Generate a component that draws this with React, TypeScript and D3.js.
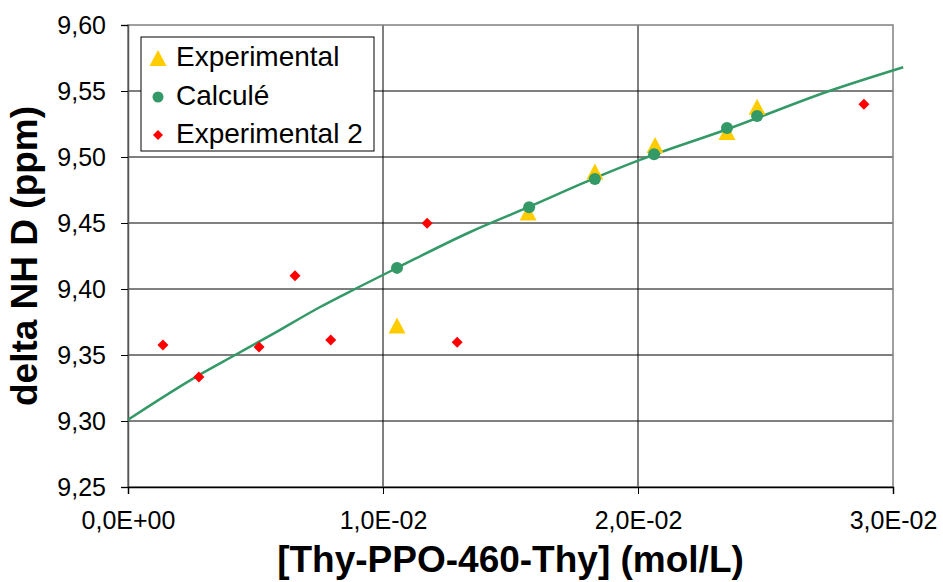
import React, { useRef, useEffect } from "react";
import * as d3 from "d3";

interface Pt {
  x: number;
  y: number;
}

// Experimental (yellow triangles)
const expX = [0.01055, 0.01569, 0.01831, 0.02067, 0.02349, 0.02467];
const expY = [9.3723, 9.458, 9.489, 9.509, 9.519, 9.538];

// Calculé (green circles)
const calcX = [0.01055, 0.01573, 0.01831, 0.02063, 0.02349, 0.02467];
const calcY = [9.416, 9.462, 9.4833, 9.502, 9.522, 9.531];

// Experimental 2 (red diamonds)
const exp2X = [0.00137, 0.00278, 0.00514, 0.00655, 0.00795, 0.01173, 0.01291, 0.02886];
const exp2Y = [9.3576, 9.3333, 9.356, 9.41, 9.3614, 9.4498, 9.3597, 9.54];

// fitted curve
const fitX = [0, 0.0028, 0.0042, 0.0056, 0.0075, 0.0089, 0.01055, 0.0134, 0.0157, 0.0183, 0.0201, 0.0235, 0.0275, 0.0304];
const fitY = [9.301, 9.335, 9.35, 9.365, 9.386, 9.4, 9.416, 9.443, 9.462, 9.484, 9.498, 9.521, 9.55, 9.568];

const xTicks = [0, 0.01, 0.02, 0.03];
const xTickLabels = ["0,0E+00", "1,0E-02", "2,0E-02", "3,0E-02"];
const yTicks = [9.25, 9.3, 9.35, 9.4, 9.45, 9.5, 9.55, 9.6];
const yTickLabels = ["9,25", "9,30", "9,35", "9,40", "9,45", "9,50", "9,55", "9,60"];

const seriesNames = ["Experimental", "Calculé", "Experimental 2"];

const zip = (xs: number[], ys: number[]): Pt[] => xs.map((x, i) => ({ x, y: ys[i] }));

const App: React.FC = () => {
  const ref = useRef<SVGSVGElement | null>(null);
  const width = 943;
  const height = 582;

  useEffect(() => {
    const font = "'Liberation Sans', Arial, sans-serif";
    const left = 128;
    const right = 893;
    const top = 25;
    const bottom = 487;

    d3.select(ref.current).selectAll("*").remove();
    const svg = d3.select(ref.current).attr("width", width).attr("height", height);

    const x = d3.scaleLinear().domain([0, 0.03]).range([left, right]);
    const y = d3.scaleLinear().domain([9.25, 9.6]).range([bottom, top]);

    svg.append("rect").attr("width", width).attr("height", height).attr("fill", "#fff");

    // gridlines
    svg
      .append("g")
      .selectAll("line")
      .data(yTicks.slice(1, -1))
      .enter()
      .append("line")
      .attr("x1", left)
      .attr("x2", right)
      .attr("y1", (d) => y(d))
      .attr("y2", (d) => y(d))
      .attr("stroke", "#000")
      .attr("stroke-width", 1);
    svg
      .append("g")
      .selectAll("line")
      .data(xTicks.slice(1, -1))
      .enter()
      .append("line")
      .attr("x1", (d) => x(d))
      .attr("x2", (d) => x(d))
      .attr("y1", top)
      .attr("y2", bottom)
      .attr("stroke", "#000")
      .attr("stroke-width", 1);

    // plot area border
    svg
      .append("rect")
      .attr("x", left)
      .attr("y", top)
      .attr("width", right - left)
      .attr("height", bottom - top)
      .attr("fill", "none")
      .attr("stroke", "#808080")
      .attr("stroke-width", 1.5);

    // axes
    const yAxis = svg
      .append("g")
      .attr("transform", `translate(${left},0)`)
      .call(
        d3
          .axisLeft(y)
          .tickValues(yTicks)
          .tickSize(7)
          .tickPadding(15)
          .tickFormat((d, i) => yTickLabels[i]) as any,
      );
    yAxis.select(".domain").attr("stroke", "#555").attr("stroke-width", 1.5);
    yAxis.selectAll(".tick line").attr("stroke", "#000");
    yAxis
      .selectAll("text")
      .attr("fill", "#000")
      .style("font-family", font)
      .style("font-size", "25px");

    const xAxis = svg
      .append("g")
      .attr("transform", `translate(0,${bottom})`)
      .call(
        d3
          .axisBottom(x)
          .tickValues(xTicks)
          .tickSize(7)
          .tickPadding(17)
          .tickFormat((d, i) => xTickLabels[i]) as any,
      );
    xAxis.select(".domain").attr("stroke", "#000").attr("stroke-width", 1.5);
    xAxis.selectAll(".tick line").attr("stroke", "#000");
    xAxis
      .selectAll("text")
      .attr("fill", "#000")
      .style("font-family", font)
      .style("font-size", "25px");

    // fitted line (not clipped, runs past the plot edge)
    const line = d3
      .line<Pt>()
      .x((d) => x(d.x))
      .y((d) => y(d.y))
      .curve(d3.curveMonotoneX);
    svg
      .append("path")
      .datum(zip(fitX, fitY))
      .attr("fill", "none")
      .attr("stroke", "#339966")
      .attr("stroke-width", 2.5)
      .attr("d", line);

    const triPath = (cx: number, cy: number) =>
      `M${cx},${cy - 8}L${cx + 8.5},${cy + 8}L${cx - 8.5},${cy + 8}Z`;
    const diaPath = (cx: number, cy: number, r: number) =>
      `M${cx},${cy - r}L${cx + r},${cy}L${cx},${cy + r}L${cx - r},${cy}Z`;

    svg
      .append("g")
      .selectAll("path")
      .data(zip(expX, expY))
      .enter()
      .append("path")
      .attr("d", (d) => triPath(x(d.x), y(d.y)))
      .attr("fill", "#FFCC00");

    svg
      .append("g")
      .selectAll("circle")
      .data(zip(calcX, calcY))
      .enter()
      .append("circle")
      .attr("cx", (d) => x(d.x))
      .attr("cy", (d) => y(d.y))
      .attr("r", 6)
      .attr("fill", "#339966");

    svg
      .append("g")
      .selectAll("path")
      .data(zip(exp2X, exp2Y))
      .enter()
      .append("path")
      .attr("d", (d) => diaPath(x(d.x), y(d.y), 5.5))
      .attr("fill", "#FF0000");

    // legend
    const lg = svg.append("g");
    lg.append("rect")
      .attr("x", 141)
      .attr("y", 37)
      .attr("width", 233)
      .attr("height", 114)
      .attr("fill", "#fff")
      .attr("stroke", "#000")
      .attr("stroke-width", 1);
    lg.append("path").attr("d", triPath(158, 58)).attr("fill", "#FFCC00");
    lg.append("circle").attr("cx", 158).attr("cy", 97).attr("r", 5.5).attr("fill", "#339966");
    lg.append("path").attr("d", diaPath(158, 135, 5)).attr("fill", "#FF0000");
    seriesNames.forEach((name, i) => {
      lg.append("text")
        .attr("x", 176)
        .attr("y", 66 + i * 38.5)
        .attr("fill", "#000")
        .style("font-family", font)
        .style("font-size", "28px")
        .text(name);
    });

    // axis titles
    svg
      .append("text")
      .attr("text-anchor", "middle")
      .attr("x", (left + right) / 2)
      .attr("y", 572)
      .attr("fill", "#000")
      .style("font-family", font)
      .style("font-weight", "bold")
      .style("font-size", "37px")
      .text("[Thy-PPO-460-Thy] (mol/L)");
    svg
      .append("text")
      .attr("text-anchor", "middle")
      .attr("transform", `translate(37,${(top + bottom) / 2}) rotate(-90)`)
      .attr("fill", "#000")
      .style("font-family", font)
      .style("font-weight", "bold")
      .style("font-size", "37px")
      .text("delta NH D (ppm)");
  }, []);

  return <svg ref={ref} style={{ position: "absolute", left: 0, top: 0 }} />;
};

export default App;
